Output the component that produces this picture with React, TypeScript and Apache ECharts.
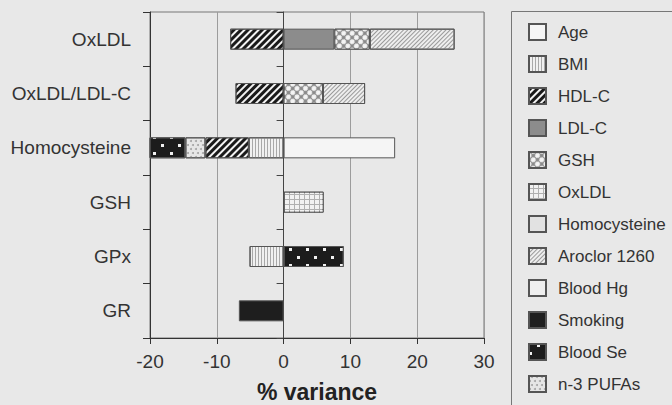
import React, { useEffect, useRef } from "react";
import * as echarts from "echarts";

// Outcome variables (rows, top to bottom)
const categories = ["OxLDL", "OxLDL/LDL-C", "Homocysteine", "GSH", "GPx", "GR"];

// x-axis range and step (% variance)
const xMin = -20;
const xMax = 30;
const xStep = 10;
const xTitle = "% variance";

// % variance explained by each predictor, per outcome row
const age = [null, null, 16.7, null, null, null];
const bmi = [null, null, -5.2, null, -5.1, null];
const hdlC = [-8.0, -7.2, -6.5, null, null, null];
const ldlC = [7.6, null, null, null, null, null];
const gsh = [5.3, 5.9, null, null, null, null];
const oxLdl = [null, null, null, 6.0, null, null];
const homocysteine = [null, null, null, null, null, null];
const aroclor1260 = [12.7, 6.3, null, null, null, null];
const bloodHg = [null, null, null, null, null, null];
const smoking = [null, null, null, null, null, -6.7];
const n3Pufas = [null, null, -3.0, null, null, null];
const bloodSe = [null, null, -5.4, null, 9.0, null];

const legendOrder = [
  "Age",
  "BMI",
  "HDL-C",
  "LDL-C",
  "GSH",
  "OxLDL",
  "Homocysteine",
  "Aroclor 1260",
  "Blood Hg",
  "Smoking",
  "Blood Se",
  "n-3 PUFAs",
];

const FONT = "'Liberation Sans', Arial, sans-serif";
const TEXT = "#333333";
const BG = "#e8e8e8";

// Diagonal hatching: horizontal bands rotated into "///"
const stripes = (color: string, dash: number[]) => ({
  symbol: "rect",
  symbolSize: 1,
  symbolKeepAspect: false,
  color,
  dashArrayX: [1, 0],
  dashArrayY: dash,
  rotation: -Math.PI / 4,
});

type Style = { color: string; decal?: any };

// The fill colour is the pattern's ground; decal symbols are drawn over it
const styles: Record<string, Style> = {
  Age: { color: "#f5f5f5" },
  BMI: {
    color: "#f0f0f0",
    decal: {
      symbol: "rect",
      symbolSize: 1,
      symbolKeepAspect: false,
      color: "#a8a8a8",
      dashArrayX: [1, 2],
      dashArrayY: [1, 0],
    },
  },
  "HDL-C": { color: "#f2f2f2", decal: stripes("#1a1a1a", [3, 2]) },
  "LDL-C": { color: "#8c8c8c" },
  GSH: {
    color: "#8a8a8a",
    decal: {
      symbol: "circle",
      symbolSize: 1,
      symbolKeepAspect: true,
      color: "#f4f4f4",
      dashArrayX: [5, 1],
      dashArrayY: [5, 1],
      rotation: Math.PI / 4,
    },
  },
  OxLDL: {
    color: "#b0b0b0",
    decal: {
      symbol: "rect",
      symbolSize: 1,
      symbolKeepAspect: false,
      color: "#f2f2f2",
      dashArrayX: [4, 1],
      dashArrayY: [4, 1],
    },
  },
  Homocysteine: { color: "#e2e2e2" },
  "Aroclor 1260": { color: "#eeeeee", decal: stripes("#9a9a9a", [1, 2]) },
  "Blood Hg": { color: "#efefef" },
  Smoking: { color: "#1e1e1e" },
  "Blood Se": {
    color: "#1c1c1c",
    decal: {
      symbol: "rect",
      symbolSize: 1,
      symbolKeepAspect: false,
      color: "#f0f0f0",
      dashArrayX: [
        [3, 14],
        [0, 8, 3, 6],
      ],
      dashArrayY: [3, 5],
    },
  },
  "n-3 PUFAs": {
    color: "#e6e6e6",
    decal: {
      symbol: "circle",
      symbolSize: 1,
      symbolKeepAspect: true,
      color: "#a4a4a4",
      dashArrayX: [
        [2, 3],
        [0, 2, 2, 1],
      ],
      dashArrayY: [2, 2],
    },
  },
};

// Stacking order (from zero outward) differs from legend order
const seriesData: [string, (number | null)[]][] = [
  ["Age", age],
  ["BMI", bmi],
  ["HDL-C", hdlC],
  ["LDL-C", ldlC],
  ["GSH", gsh],
  ["OxLDL", oxLdl],
  ["Homocysteine", homocysteine],
  ["Aroclor 1260", aroclor1260],
  ["Blood Hg", bloodHg],
  ["Smoking", smoking],
  ["n-3 PUFAs", n3Pufas],
  ["Blood Se", bloodSe],
];

export default function App() {
  const ref = useRef<HTMLDivElement>(null);

  useEffect(() => {
    if (!ref.current) return;
    const chart = echarts.init(ref.current, null, { renderer: "svg" });

    const series = seriesData.map(([name, data]) => {
      const s = styles[name];
      const itemStyle: any = {
        color: s.color,
        borderColor: "#555555",
        borderWidth: 1,
      };
      if (s.decal) itemStyle.decal = s.decal;
      return {
        name,
        type: "bar",
        stack: "variance",
        barWidth: 21,
        xAxisIndex: 0,
        yAxisIndex: 0,
        data,
        itemStyle,
      };
    });

    chart.setOption({
      animation: false,
      backgroundColor: BG,
      textStyle: { fontFamily: FONT },
      grid: {
        left: 150,
        top: 12,
        right: 188,
        bottom: 67,
        containLabel: false,
        outerBoundsMode: "none",
        show: true,
        borderColor: "#777777",
        borderWidth: 1,
        backgroundColor: "transparent",
      },
      legend: {
        data: legendOrder,
        orient: "vertical",
        left: 528,
        top: 23,
        padding: 0,
        itemWidth: 17,
        itemHeight: 16,
        itemGap: 14,
        icon: "rect",
        selectedMode: false,
        textStyle: {
          fontFamily: FONT,
          fontSize: 17,
          color: TEXT,
          padding: [0, 0, 0, 7],
        },
      },
      xAxis: {
        type: "value",
        min: xMin,
        max: xMax,
        interval: xStep,
        axisLine: { show: true, onZero: false, lineStyle: { color: "#333333", width: 1 } },
        axisTick: { show: true, length: 6, lineStyle: { color: "#333333" } },
        axisLabel: { fontFamily: FONT, fontSize: 19, color: TEXT, margin: 14 },
        splitLine: { show: true, lineStyle: { color: "#9c9c9c", width: 1 } },
      },
      yAxis: [
        {
          type: "category",
          data: categories,
          inverse: true,
          position: "left",
          axisLine: { show: true, onZero: false, lineStyle: { color: "#333333", width: 1 } },
          axisTick: { show: true, length: 7, lineStyle: { color: "#333333" } },
          axisLabel: { fontFamily: FONT, fontSize: 19, color: TEXT, margin: 19 },
          splitLine: { show: false },
        },
        {
          type: "category",
          data: categories,
          inverse: true,
          position: "left",
          axisLine: { show: true, onZero: true, lineStyle: { color: "#444444", width: 1 } },
          axisTick: { show: true, length: 7, lineStyle: { color: "#444444" } },
          axisLabel: { show: false },
          splitLine: { show: false },
        },
      ],
      graphic: [
        {
          type: "rect",
          silent: true,
          shape: { x: 511.5, y: 11.5, width: 220, height: 440 },
          style: { fill: "none", stroke: "#777777", lineWidth: 1 },
        },
        {
          type: "text",
          silent: true,
          x: 317,
          y: 392,
          style: {
            text: xTitle,
            fontFamily: FONT,
            fontSize: 23,
            fontWeight: "bold",
            fill: "#222222",
            align: "center",
            verticalAlign: "middle",
          },
        },
      ],
      series,
    });

    return () => chart.dispose();
  }, []);

  return (
    <div
      ref={ref}
      style={{ position: "fixed", left: 0, top: 0, width: 672, height: 405 }}
    />
  );
}
